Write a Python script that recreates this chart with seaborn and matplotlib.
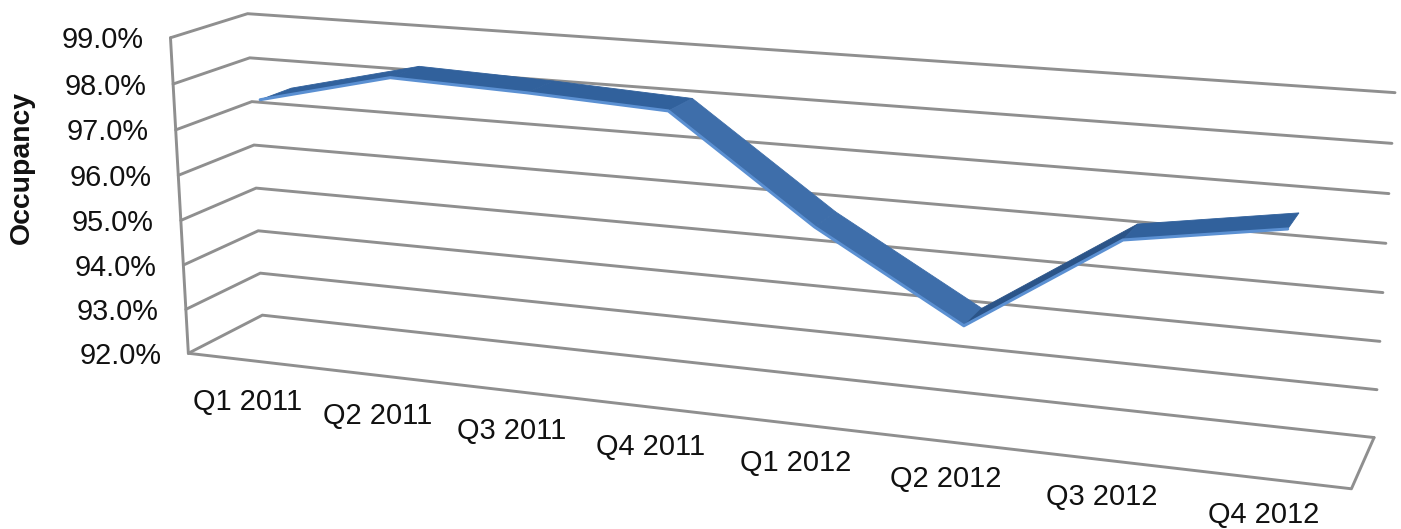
import numpy as np
import pandas as pd
import matplotlib
matplotlib.use("Agg")
import matplotlib.pyplot as plt
import seaborn as sns

quarters = ["Q1 2011", "Q2 2011", "Q3 2011", "Q4 2011", "Q1 2012", "Q2 2012", "Q3 2012", "Q4 2012"]
occupancy = [97.6, 98.3, 98.2, 98.05, 95.9, 94.15, 96.2, 96.7]
levels = [92, 93, 94, 95, 96, 97, 98, 99]
axis_title = "Occupancy"

W, H = 1401, 529
GRID = "#8f8f8f"
RIBBON_FLAT = "#31619c"
RIBBON_FALL = "#3e6eaa"
RIBBON_RISE = "#2b5488"
EDGE = "#5b90d2"
FONT = "Liberation Sans"
RIBBON_FRONT, RIBBON_BACK = 0.28, 0.70

# Camera for the chart box: (category, value, depth) -> image pixel, solved from the box outline.
anchors = [((0, 99, 1), (248, 14)), ((0, 92, 1), (262, 315)), ((8, 99, 1), (1395, 92)),
           ((8, 92, 1), (1374, 438)), ((0, 99, 0), (170, 38)), ((0, 92, 0), (188, 353)),
           ((8, 92, 0), (1351, 489)), ((0.5, 92, 0), (252, 360.5)),
           ((7.5, 92, 0), (1268, 479)), ((4, 92, 0), (727, 416))]
A, b = [], []
for (cat, val, depth), (u, v) in anchors:
    x, y, z = cat / 8.0, (val - 92) / 7.0, depth
    A.append([x, y, z, 1, 0, 0, 0, 0, -u * x, -u * y, -u * z])
    b.append(u)
    A.append([0, 0, 0, 0, x, y, z, 1, -v * x, -v * y, -v * z])
    b.append(v)
camera = np.append(np.linalg.lstsq(np.array(A), np.array(b), rcond=None)[0], 1).reshape(3, 4)


def project(cat, val, depth):
    cat = np.atleast_1d(np.asarray(cat, float)) / 8.0
    val = (np.atleast_1d(np.asarray(val, float)) - 92) / 7.0
    cat, val = np.broadcast_arrays(cat, val)
    depth = np.broadcast_to(depth, cat.shape)
    h = camera @ np.vstack([cat, val, depth, np.ones_like(cat)])
    return h[0] / h[2], h[1] / h[2]


sns.set_style("white")
fig = plt.figure(figsize=(W / 100, H / 100), dpi=100)
ax = fig.add_axes([0, 0, 1, 1])
ax.set_xlim(0, W)
ax.set_ylim(H, 0)

# Walls: one gridline per level, running along the side wall then the back wall.
for level in levels:
    u, v = project([0, 0, 8], [level] * 3, [0, 1, 1])
    ax.plot(u, v, color=GRID, lw=2.1, solid_joinstyle="miter", zorder=1)

# Floor front edge and right edge, plus the front-left upright.
u, v = project([0, 8, 8], [92, 92, 92], [0, 0, 1])
ax.plot(u, v, color=GRID, lw=2.1, zorder=1)
u, v = project([0, 0], [92, 99], [0, 0])
ax.plot(u, v, color=GRID, lw=2.1, zorder=1)

# Ribbon: a quad per segment, shaded by the slope of that segment.
centers = np.arange(len(quarters)) + 0.5
values = np.array(occupancy)
for i in range(len(values) - 1):
    cats = [centers[i], centers[i + 1], centers[i + 1], centers[i]]
    vals = [values[i], values[i + 1], values[i + 1], values[i]]
    u, v = project(cats, vals, [RIBBON_FRONT, RIBBON_FRONT, RIBBON_BACK, RIBBON_BACK])
    delta = values[i + 1] - values[i]
    color = RIBBON_FALL if delta < -1 else RIBBON_RISE if delta > 1 else RIBBON_FLAT
    ax.fill(u, v, color=color, lw=0.6, zorder=3)

# Lit front edge of the ribbon.
u, v = project(centers, values, RIBBON_FRONT)
frame = pd.DataFrame({"u": u, "v": v, "quarter": quarters})
sns.lineplot(data=frame, x="u", y="v", sort=False, errorbar=None, color=EDGE, lw=2.2,
             ax=ax, zorder=4, solid_joinstyle="round")

# Value labels along the front-left upright.
for level in levels:
    u, v = project(0, level, 0)
    ax.text(u[0] - 27, v[0] + 2.5, f"{level:.1f}%", ha="right", va="center",
            family=FONT, fontsize=20.8, color="#111111")

# Quarter labels beneath the floor's front edge, with the gap narrowing to the right.
for center, label in zip(centers, quarters):
    u, v = project(center, 92, 0)
    gap = 41.5 - 0.75 * center
    ax.text(u[0] - 4, v[0] + gap, label, ha="center", va="center",
            family=FONT, fontsize=20.9, color="#111111")

ax.text(22, 168, axis_title, rotation=90, ha="center", va="center",
        family=FONT, fontsize=20.4, fontweight="bold", color="#111111")

ax.set_xlim(0, W)
ax.set_ylim(H, 0)
ax.axis("off")
fig.savefig("out.png", dpi=100, facecolor="white")
